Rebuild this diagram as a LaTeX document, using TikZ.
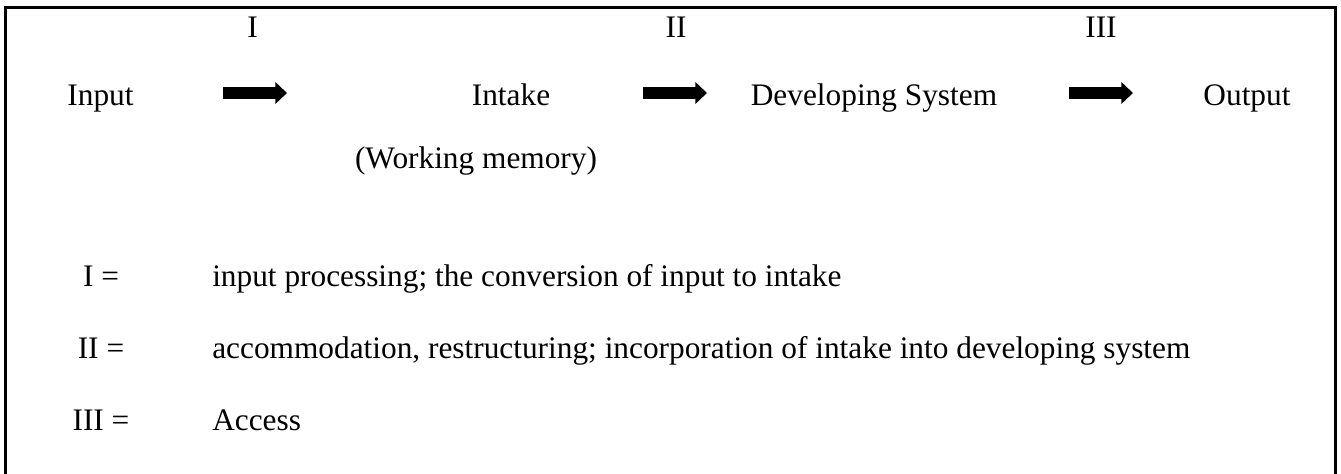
\documentclass[tikz,border=0pt]{standalone}
\usepackage{fontspec}
\setmainfont{Liberation Serif}
\usetikzlibrary{arrows.meta}
\tikzset{
  lbl/.style={inner sep=0pt, anchor=base, font=\fontsize{23.5}{28}\selectfont},
  keytext/.style={lbl, anchor=base west},
  fatarrow/.style={line width=9pt, -{Triangle[length=8.75pt,width=16pt]}}
}
\begin{document}
\begin{tikzpicture}[x=0.75pt,y=-0.75pt]
    \useasboundingbox (0,0) rectangle (1341,474);
    \draw[line width=2pt] (5.3,474) -- (5.3,7.3) -- (1335.6,7.3) -- (1335.6,474);

    % stage numbers
    \node[lbl] (n1) at (252.5,38) {I};
    \node[lbl] (n2) at (676,38) {II};
    \node[lbl] (n3) at (1101,38) {III};

    % main row
    \node[lbl] (input) at (100.5,106) {Input};
    \node[lbl] (intake) at (511,106) {Intake};
    \node[lbl] (devsys) at (874,106) {Developing System};
    \node[lbl] (output) at (1247,106) {Output};
    \node[lbl] (wm) at (476,168) {(Working memory)};

    \coordinate (a1s) at (223,93);
    \coordinate (a1e) at (287,93);
    \coordinate (a2s) at (643,93);
    \coordinate (a2e) at (707,93);
    \coordinate (a3s) at (1069,93);
    \coordinate (a3e) at (1133,93);
    \draw[fatarrow] (a1s) -- (a1e);
    \draw[fatarrow] (a2s) -- (a2e);
    \draw[fatarrow] (a3s) -- (a3e);

    % key
    \node[lbl] (k1) at (101,286) {I =};
    \node[keytext] (t1) at (212,286) {input processing; the conversion of input to intake};
    \node[lbl] (k2) at (101,358) {II =};
    \node[keytext] (t2) at (212,358) {accommodation, restructuring; incorporation of intake into developing system};
    \node[lbl] (k3) at (101,430) {III =};
    \node[keytext] (t3) at (212,430) {Access};
\end{tikzpicture}
\end{document}
